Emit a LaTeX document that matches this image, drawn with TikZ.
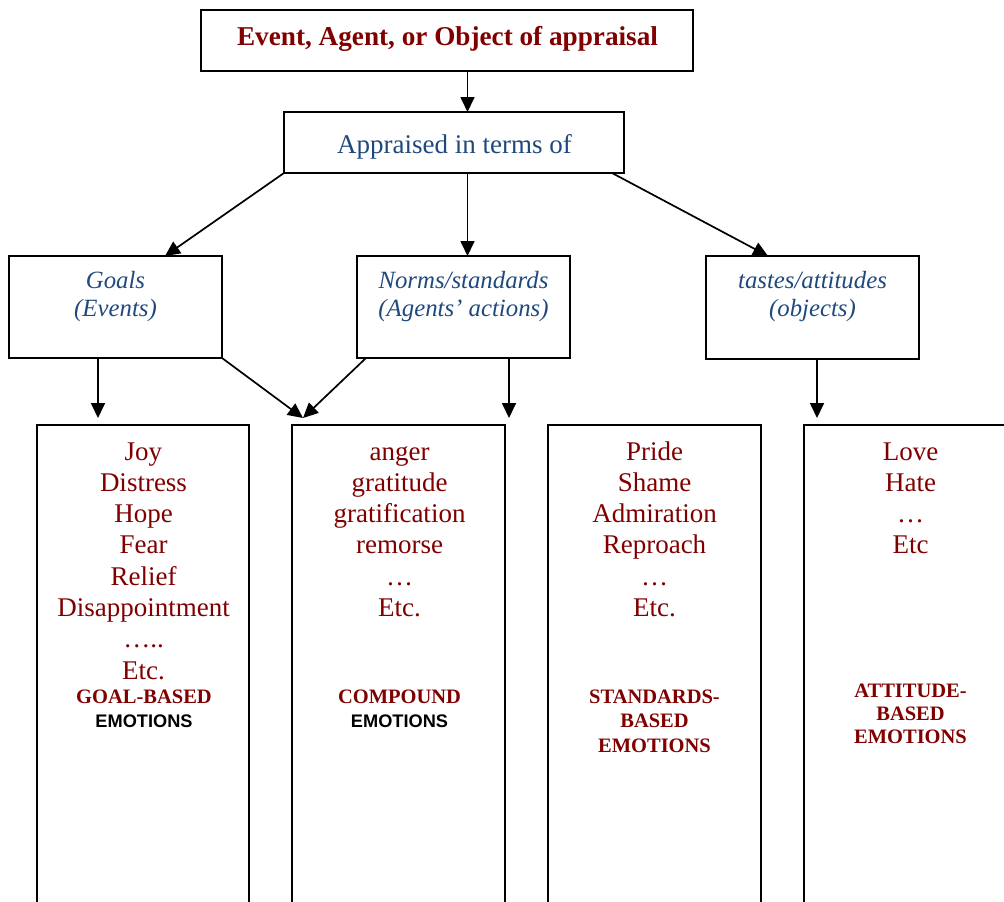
\documentclass[tikz,border=0pt]{standalone}
\usepackage{fontspec}
\setmainfont{Liberation Serif}
\newfontfamily\arialfont{Liberation Sans}
\usetikzlibrary{arrows.meta,calc}
\definecolor{emored}{RGB}{128,0,0}
\definecolor{inkblue}{RGB}{31,73,125}

\begin{document}
\begin{tikzpicture}[x=1pt,y=-1pt,
  frame/.style={draw=black, line width=1.7pt, inner sep=0pt, outer sep=0pt,
                anchor=north west},
  conn/.style={draw=black, line width=1.7pt,
               -{Triangle[length=15pt,width=14pt]}},
  txt/.style={inner sep=0pt, outer sep=0pt},
  listtxt/.style={txt, align=center, anchor=north, text=emored,
                  font=\fontsize{27}{31.3}\selectfont},
  kindtxt/.style={txt, align=center, anchor=north, text=emored,
                  font=\bfseries\fontsize{20.5}{24}\selectfont},
  sensetxt/.style={txt, align=center, anchor=north, text=inkblue,
                   font=\itshape\fontsize{24.8}{28}\selectfont},
]
\useasboundingbox (0,0) rectangle (1004,902);
\clip (0,0) rectangle (1004,902);

% top of the hierarchy
\node[frame, minimum width=492pt, minimum height=61pt] (source) at (201,10) {};
\node[txt, anchor=base, text=emored, font=\bfseries\fontsize{27.2}{30}\selectfont]
  (sourcetxt) at (447.5,45) {Event, Agent, or Object of appraisal};

\node[frame, minimum width=340pt, minimum height=61pt] (appr) at (284,112) {};
\node[txt, anchor=base, text=inkblue, font=\fontsize{27}{31}\selectfont]
  (apprtxt) at (454.5,153) {Appraised in terms of};

% the three appraisal dimensions
\node[frame, minimum width=213pt, minimum height=102pt] (goals) at (9,256) {};
\node[sensetxt] (goalstxt) at (115.5,268.4) {\strut Goals\\(Events)};

\node[frame, minimum width=213pt, minimum height=102pt] (norms) at (357,256) {};
\node[sensetxt] (normstxt) at (463.5,268.4) {\strut Norms/standards\\(Agents' actions)};

\node[frame, minimum width=213pt, minimum height=103pt] (tastes) at (706,256) {};
\node[sensetxt] (tastestxt) at (812.5,268.4) {\strut tastes/attitudes\\(objects)};

% emotion classes (the columns run on below the page)
\node[frame, minimum width=212pt, minimum height=520pt] (goalbox) at (37,425) {};
\node[frame, minimum width=213pt, minimum height=520pt] (compbox) at (292,425) {};
\node[frame, minimum width=213pt, minimum height=520pt] (stdbox) at (548,425) {};
\node[frame, minimum width=213pt, minimum height=520pt] (attbox) at (804,425) {};

\node[listtxt] (goallist) at (143.5,438.1)
  {\strut Joy\\Distress\\Hope\\Fear\\Relief\\Disappointment\\…..\\Etc.};
\node[kindtxt] (goalkind) at (144,686.2)
  {\strut GOAL-BASED\\{\color{black}\arialfont\fontsize{18.2}{24}\selectfont EMOTIONS}};

\node[listtxt] (complist) at (399.5,438.1)
  {\strut anger\\gratitude\\gratification\\remorse\\…\\Etc.};
\node[kindtxt] (compkind) at (399.5,686.2)
  {\strut COMPOUND\\{\color{black}\arialfont\fontsize{18.2}{24}\selectfont EMOTIONS}};

\node[listtxt] (stdlist) at (654.5,438.1)
  {\strut Pride\\Shame\\Admiration\\Reproach\\…\\Etc.};
\node[kindtxt, font=\bfseries\fontsize{20.5}{24.5}\selectfont] (stdkind) at (654.5,685.9)
  {\strut STANDARDS-\\BASED\\EMOTIONS};

\node[listtxt] (attlist) at (910.5,438.1)
  {\strut Love\\Hate\\…\\Etc};
\node[kindtxt, font=\bfseries\fontsize{20.5}{23}\selectfont] (attkind) at (910.5,680.9)
  {\strut ATTITUDE-\\BASED\\EMOTIONS};

% connectors
\coordinate (meet) at ($(compbox.north west)+(11,-7)$);
\coordinate (normsdrop) at ($(compbox.north east)+(4,-7)$);

\draw[conn] ($(source.south west)+(266.5,0)$) -- ($(appr.north west)+(183.5,0)$);
\draw[conn] (appr.south west) -- ($(goals.north west)+(156,0)$);
\draw[conn] ($(appr.south west)+(183.5,0)$) -- ($(norms.north west)+(110.5,0)$);
\draw[conn] ($(appr.south east)+(-12,0)$) -- ($(tastes.north west)+(62,0)$);

\draw[conn, shorten >=7pt] ($(goals.south west)+(89,0)$) -- ($(goalbox.north west)+(61,0)$);
\draw[conn] (goals.south east) -- (meet);
\draw[conn] ($(norms.south west)+(9,0)$) -- (meet);
\draw[conn] ($(norms.south west)+(152,0)$) -- (normsdrop);
\draw[conn, shorten >=7pt] ($(tastes.south west)+(111,0)$) -- ($(attbox.north west)+(13,0)$);
\end{tikzpicture}
\end{document}
